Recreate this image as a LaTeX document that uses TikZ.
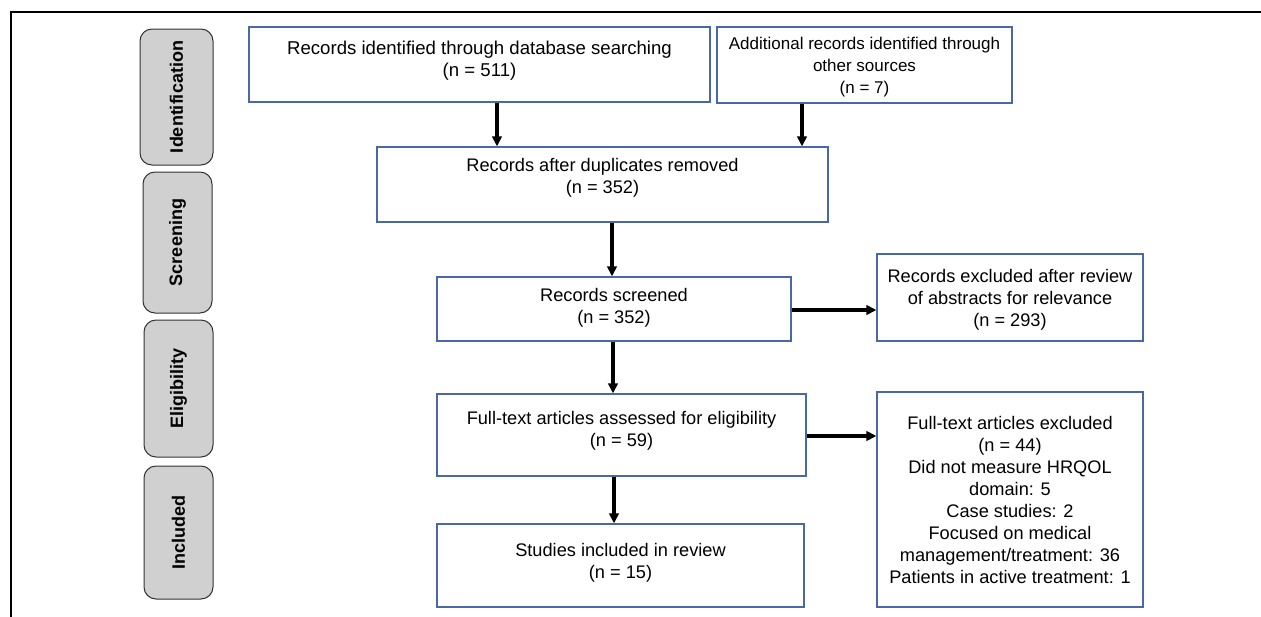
\documentclass[tikz,border=0pt]{standalone}
\usepackage{fontspec}
\setmainfont{Liberation Sans}
\usetikzlibrary{arrows.meta}

\definecolor{boxblue}{HTML}{4A68A6}
\definecolor{phasegray}{HTML}{D0D0D0}

\tikzset{
    box/.style={draw=boxblue, line width=1.2pt, align=center, inner sep=0pt,
        font=\fontsize{18.2}{22}\selectfont},
    phase/.style={draw=black!80, fill=phasegray, rounded corners=12pt, line width=1pt,
        inner sep=0pt, rotate=90, font=\fontsize{18}{22}\selectfont\bfseries},
    arr/.style={-{Triangle[length=10pt,width=9.5pt]}, line width=3.2pt},
}

\begin{document}
\begin{tikzpicture}[x=1pt,y=-1pt]
    \useasboundingbox (0,0) rectangle (1261,616);
    \draw[line width=1.5pt] (11,640) -- (11,12) -- (1290,12);

    % phases
    \node[phase, minimum width=136, minimum height=73] (ident) at (176.5,97) {Identification};
    \node[phase, minimum width=141, minimum height=69] (screen) at (177.5,242.5) {Screening};
    \node[phase, minimum width=137, minimum height=69] (elig) at (178.5,388.5) {Eligibility};
    \node[phase, minimum width=133, minimum height=69] (incl) at (178.5,532.5) {Included};

    % boxes
    \node[box, minimum width=461, minimum height=75, text depth=11pt,
        font=\fontsize{18.6}{22}\selectfont] (dbsearch) at (479.5,64.5)
        {Records identified through database searching\\(n = 511)};
    \node[box, minimum width=295, minimum height=76, text depth=0pt,
        font=\fontsize{17}{22}\selectfont] (othersrc) at (864.5,65)
        {Additional records identified through\\other sources\\(n = 7)};
    \node[box, minimum width=451, minimum height=75, text depth=17pt] (dedup) at (602.5,184.5)
        {Records after duplicates removed\\(n = 352)};
    \node[box, minimum width=354, minimum height=64, text depth=7pt] (screened) at (614,309)
        {Records screened\\(n = 352)};
    \node[box, minimum width=266, minimum height=87, text depth=0pt] (absexcl) at (1010,297.5)
        {Records excluded after review\\of abstracts for relevance\\(n = 293)};
    \node[box, minimum width=369, minimum height=82, text depth=12pt] (fulltext) at (621.5,435)
        {Full-text articles assessed for eligibility\\(n = 59)};
    \node[box, minimum width=266, minimum height=215] (ftexcl) at (1010,499.5)
        {Full-text articles excluded\\(n = 44)\\Did not measure HRQOL\\domain: 5\\Case studies: 2\\Focused on medical\\management/treatment: 36\\Patients in active treatment: 1};
    \node[box, minimum width=367, minimum height=83, text depth=9pt] (included) at (620.5,565.5)
        {Studies included in review\\(n = 15)};

    % arrows
    \draw[arr] (dbsearch.south -| 497,0) -- (dedup.north -| 497,0);
    \draw[arr] (othersrc.south -| 802,0) -- (dedup.north -| 802,0);
    \draw[arr] (dedup.south -| 612,0) -- (screened.north -| 612,0);
    \draw[arr] (screened.east |- 0,310) -- (absexcl.west |- 0,310);
    \draw[arr] (screened.south -| 613,0) -- (fulltext.north -| 613,0);
    \draw[arr] (fulltext.east |- 0,436) -- (ftexcl.west |- 0,436);
    \draw[arr] (fulltext.south -| 614,0) -- (included.north -| 614,0);
\end{tikzpicture}
\end{document}
